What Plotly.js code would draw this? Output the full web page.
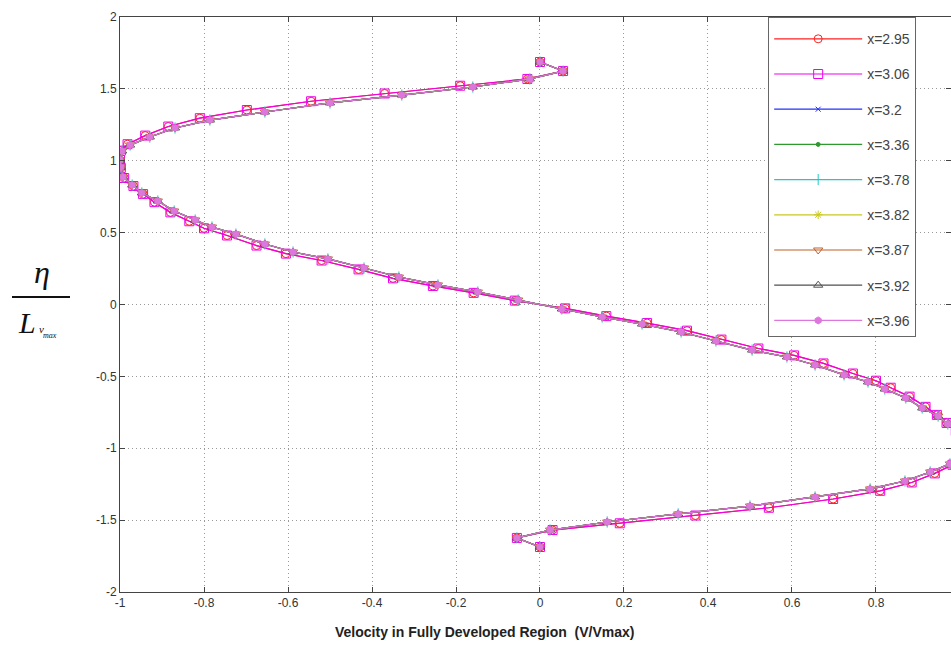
<!DOCTYPE html>
<html>
<head>
<meta charset="utf-8">
<script src="https://cdn.plot.ly/plotly-3.0.1.min.js"></script>
<style>html,body{margin:0;padding:0;background:#fff;}#chart{width:951px;height:645px;}</style>
</head>
<body>
<div id="chart"></div>
<script>
// Series names (legend)
const seriesNames = ["x=2.95","x=3.06","x=3.2","x=3.36","x=3.78","x=3.82","x=3.87","x=3.92","x=3.96"];

// eta / L_Vmax for the main sampling (most series)
const etaB = [1.687, 1.624, 1.569, 1.513, 1.457, 1.402, 1.339, 1.283, 1.228, 1.165, 1.109, 1.068, 1.005, 0.955, 0.887, 0.831, 0.776, 0.720, 0.650, 0.588, 0.539, 0.490, 0.421, 0.365, 0.317, 0.254, 0.191, 0.136, 0.087, 0.031,
              -0.031, -0.087, -0.136, -0.191, -0.254, -0.317, -0.365, -0.421, -0.490, -0.539, -0.588, -0.650, -0.720, -0.776, -0.831, -0.887, -0.955, -1.005, -1.068, -1.109, -1.165, -1.228, -1.283, -1.339, -1.402, -1.457, -1.513, -1.569, -1.624, -1.687];
// V/Vmax for the main sampling
const velB = [0.000, 0.055, -0.024, -0.160, -0.329, -0.500, -0.655, -0.786, -0.869, -0.929, -0.976, -0.995, -1.000, -0.998, -0.993, -0.971, -0.948, -0.910, -0.871, -0.821, -0.781, -0.724, -0.655, -0.588, -0.505, -0.419, -0.336, -0.243, -0.148, -0.052,
              0.052, 0.148, 0.243, 0.336, 0.419, 0.505, 0.588, 0.655, 0.724, 0.781, 0.821, 0.871, 0.910, 0.948, 0.971, 0.993, 0.998, 1.000, 0.995, 0.976, 0.929, 0.869, 0.786, 0.655, 0.500, 0.329, 0.160, 0.024, -0.055, 0.000];

// eta / L_Vmax for the shifted sampling (x=2.95, x=3.06)
const etaA = [1.687, 1.624, 1.569, 1.522, 1.468, 1.414, 1.353, 1.296, 1.238, 1.175, 1.115, 1.070, 1.005, 0.950, 0.880, 0.824, 0.768, 0.712, 0.641, 0.579, 0.530, 0.480, 0.410, 0.354, 0.306, 0.244, 0.182, 0.129, 0.081, 0.027,
              -0.027, -0.081, -0.129, -0.182, -0.244, -0.306, -0.354, -0.410, -0.480, -0.530, -0.579, -0.641, -0.712, -0.768, -0.824, -0.880, -0.950, -1.005, -1.070, -1.115, -1.175, -1.238, -1.296, -1.353, -1.414, -1.468, -1.522, -1.569, -1.624, -1.687];
// V/Vmax for the shifted sampling
const velA = [0.000, 0.055, -0.030, -0.190, -0.370, -0.545, -0.698, -0.810, -0.885, -0.940, -0.982, -0.998, -1.000, -0.998, -0.990, -0.968, -0.945, -0.918, -0.880, -0.835, -0.800, -0.745, -0.675, -0.605, -0.520, -0.432, -0.350, -0.255, -0.158, -0.060,
              0.060, 0.158, 0.255, 0.350, 0.432, 0.520, 0.605, 0.675, 0.745, 0.800, 0.835, 0.880, 0.918, 0.945, 0.968, 0.990, 0.998, 1.000, 0.998, 0.982, 0.940, 0.885, 0.810, 0.698, 0.545, 0.370, 0.190, 0.030, -0.055, 0.000];

// Tick labels
const xTickVals = [-1, -0.8, -0.6, -0.4, -0.2, 0, 0.2, 0.4, 0.6, 0.8];
const xTickText = ["-1", "-0.8", "-0.6", "-0.4", "-0.2", "0", "0.2", "0.4", "0.6", "0.8"];
const yTickVals = [2, 1.5, 1, 0.5, 0, -0.5, -1, -1.5, -2];
const yTickText = ["2", "1.5", "1", "0.5", "0", "-0.5", "-1", "-1.5", "-2"];

// Styles per series
const styles = [
  {color: "#ff2020", symbol: "circle-open", size: 8, data: "A"},
  {color: "#ee00ee", symbol: "square-open", size: 9, data: "A"},
  {color: "#2030ff", symbol: "x-thin-open", size: 5, data: "B"},
  {color: "#2e9a2e", symbol: "circle", size: 4, data: "B"},
  {color: "#20c8c8", symbol: "line-ns-open", size: 8, data: "B"},
  {color: "#c8c820", symbol: "asterisk-open", size: 7, data: "B"},
  {color: "#c0602a", symbol: "triangle-down-open", size: 8, data: "B"},
  {color: "#505050", symbol: "triangle-up-open", size: 8, data: "B"},
  {color: "#dd77dd", symbol: "hexagon", size: 7, data: "B"}
];

const traces = seriesNames.map((name, i) => {
  const s = styles[i];
  const x = s.data === "A" ? velA : velB;
  const y = s.data === "A" ? etaA : etaB;
  return {
    type: "scatter", mode: "lines+markers", name: name,
    x: x, y: y, legendgroup: "g" + i,
    line: {color: s.color, width: 1.2},
    marker: {symbol: s.symbol, size: s.size, color: s.color, line: {color: s.color, width: 1}}
  };
});

const ff = "Liberation Sans, Arial, sans-serif";
const layout = {
  width: 951, height: 645,
  margin: {l: 120, r: 0, t: 17, b: 53},
  paper_bgcolor: "#fff", plot_bgcolor: "#fff",
  showlegend: true,
  legend: {
    x: 0.78, xanchor: "left", y: 1, yanchor: "top",
    bgcolor: "#fff", bordercolor: "#666", borderwidth: 1,
    font: {family: ff, size: 14, color: "#444"},
    title: {text: " ", font: {size: 4}},
    tracegroupgap: 14, traceorder: "grouped",
    itemwidth: 88
  },
  xaxis: {
    range: [-1, 0.9786], tickmode: "array", tickvals: xTickVals, ticktext: xTickText,
    showgrid: true, gridcolor: "#9a9a9a", griddash: "1px,3px", gridwidth: 1,
    zeroline: false, showline: true, mirror: "ticks", linecolor: "#444", linewidth: 1,
    ticks: "inside", ticklen: 5, tickcolor: "#444",
    tickfont: {family: ff, size: 12, color: "#333"}
  },
  yaxis: {
    range: [-2, 2], tickmode: "array", tickvals: yTickVals, ticktext: yTickText,
    showgrid: true, gridcolor: "#9a9a9a", griddash: "1px,3px", gridwidth: 1,
    zeroline: false, showline: true, mirror: "ticks", linecolor: "#444", linewidth: 1,
    ticks: "inside", ticklen: 5, tickcolor: "#444",
    tickfont: {family: ff, size: 12, color: "#333"}
  },
  shapes: [
    {type: "line", xref: "paper", yref: "paper", x0: (12 - 120) / 831, x1: (70 - 120) / 831,
     y0: (645 - 53 - 297) / 575, y1: (645 - 53 - 297) / 575, line: {color: "#111", width: 2}}
  ],
  annotations: [
    {xref: "paper", yref: "paper", x: (485 - 120) / 831, y: (592 - 632) / 575, xanchor: "center", yanchor: "middle",
     text: "<b>Velocity in Fully Developed Region  (V/Vmax)</b>", showarrow: false,
     font: {family: ff, size: 14, color: "#222"}},
    {xref: "paper", yref: "paper", x: (42 - 120) / 831, y: (592 - 272) / 575, xanchor: "center", yanchor: "middle",
     text: "<i>η</i>", showarrow: false, font: {family: "Liberation Serif, serif", size: 32, color: "#111"}},
    {xref: "paper", yref: "paper", x: (27 - 120) / 831, y: (592 - 322) / 575, xanchor: "center", yanchor: "middle",
     text: "<i>L</i>", showarrow: false, font: {family: "Liberation Serif, serif", size: 30, color: "#111"}},
    {xref: "paper", yref: "paper", x: (41 - 120) / 831, y: (592 - 329) / 575, xanchor: "center", yanchor: "middle",
     text: "<i>v</i>", showarrow: false, font: {family: "Liberation Serif, serif", size: 11, color: "#111"}},
    {xref: "paper", yref: "paper", x: (50 - 120) / 831, y: (592 - 335) / 575, xanchor: "center", yanchor: "middle",
     text: "<i>max</i>", showarrow: false, font: {family: "Liberation Serif, serif", size: 8, color: "#111"}}
  ]
};

Plotly.newPlot("chart", traces, layout, {displayModeBar: false, staticPlot: true});
</script>
</body>
</html>
